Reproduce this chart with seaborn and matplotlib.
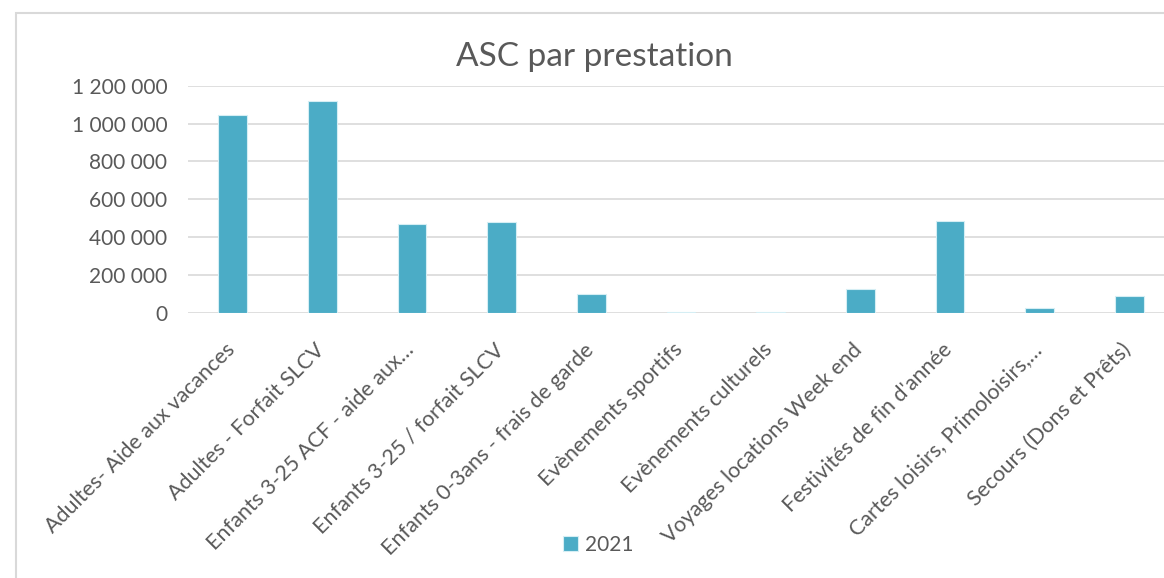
import pandas as pd
import seaborn as sns
import matplotlib.pyplot as plt
import matplotlib.transforms as mtransforms
from matplotlib.patches import Rectangle
from matplotlib.ticker import FuncFormatter

# Données (montants 2021)
prestations = [
    "Adultes- Aide aux vacances",
    "Adultes - Forfait SLCV",
    "Enfants 3-25 ACF - aide aux…",
    "Enfants 3-25 / forfait SLCV",
    "Enfants 0-3ans - frais de garde",
    "Evènements sportifs",
    "Evènements culturels",
    "Voyages locations Week end",
    "Festivités de fin d'année",
    "Cartes loisirs, Primoloisirs,…",
    "Secours (Dons et Prêts)",
]
montants_2021 = [1045000, 1121000, 467000, 478000, 97000, 4000, 2000,
                 125000, 485000, 26000, 88000]
annee = "2021"
yticks = [0, 200000, 400000, 600000, 800000, 1000000, 1200000]

couleur = "#4BACC6"
gris_texte = "#595959"
gris_grille = "#D9D9D9"

df = pd.DataFrame({"prestation": prestations, "montant": montants_2021})
df["annee"] = annee

sns.set_theme(style="white")
plt.rcParams["font.family"] = ["Lato", "DejaVu Sans"]

fig = plt.figure(figsize=(11.64, 5.78), dpi=100)
W, H = 1164, 578
ax = fig.add_axes([188 / W, 1 - 312.7 / H, (1174 - 188) / W, (312.7 - 85.7) / H])

sns.barplot(data=df, x="prestation", y="montant", hue="annee",
            palette=[couleur], saturation=1, width=0.32, dodge=False, ax=ax,
            edgecolor="#D5EEF4", linewidth=0.8, zorder=3)

ax.set_ylim(0, 1200000)
ax.set_xlim(-0.5, len(prestations) - 0.5)
ax.set_yticks(yticks)
ax.yaxis.set_major_formatter(FuncFormatter(lambda v, p: f"{int(v):,}".replace(",", " ")))
ax.grid(axis="y", color=gris_grille, linewidth=1.2, zorder=0)
ax.set_axisbelow(True)
for s in ax.spines.values():
    s.set_visible(False)
ax.set_xlabel("")
ax.set_ylabel("")
ax.tick_params(axis="y", length=0, pad=15, labelsize=15, labelcolor=gris_texte)
ax.tick_params(axis="x", length=0, pad=10, labelsize=15.5, labelcolor=gris_texte)

# décalage des étiquettes inclinées comme dans Excel
decalage = mtransforms.ScaledTranslation(6 / 100, -13 / 100, fig.dpi_scale_trans)
for lab in ax.get_xticklabels():
    lab.set_rotation(45)
    lab.set_ha("right")
    lab.set_va("top")
    lab.set_transform(lab.get_transform() + decalage)

fig.text(594 / W, 1 - 57 / H, "ASC par prestation", ha="center", va="center",
         fontsize=24, color=gris_texte)

sns.move_legend(ax, "center", bbox_to_anchor=(598 / W, 1 - 545 / H),
                bbox_transform=fig.transFigure, frameon=False, title=None,
                handlelength=0.75, handleheight=0.75, handletextpad=0.3,
                fontsize=15, labelcolor=gris_texte)

fig.add_artist(Rectangle((15.5 / W, -0.1), 1.2, 1 - 13.5 / H + 0.1,
                         transform=fig.transFigure, fill=False,
                         edgecolor=gris_grille, linewidth=1.5))

fig.savefig("out.png", dpi=100)
